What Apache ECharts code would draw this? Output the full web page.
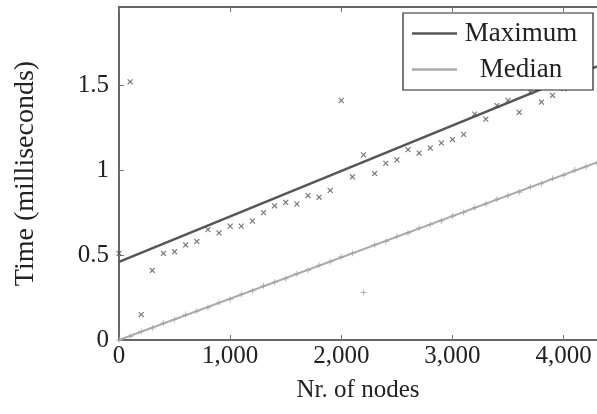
<!DOCTYPE html>
<html>
<head>
<meta charset="utf-8">
<script src="https://cdn.jsdelivr.net/npm/echarts@6/dist/echarts.min.js"></script>
<style>
  html, body { margin: 0; padding: 0; background: #fff; }
  #chart { width: 597px; height: 414px; }
</style>
</head>
<body>
<div id="chart"></div>
<script>
// x positions (number of nodes)
const maxNodes = [0, 100, 200, 300, 400, 500, 600, 700, 800, 900, 1000, 1100, 1200, 1300, 1400,
  1500, 1600, 1700, 1800, 1900, 2000, 2100, 2200, 2300, 2400, 2500, 2600, 2700, 2800, 2900,
  3000, 3100, 3200, 3300, 3400, 3500, 3600, 3700, 3800, 3900, 4000, 4100, 4200];
const maxTimes = [0.51, 1.52, 0.15, 0.41, 0.51, 0.52, 0.56, 0.58, 0.65, 0.63, 0.67, 0.67, 0.70, 0.75, 0.79,
  0.81, 0.80, 0.85, 0.84, 0.88, 1.41, 0.96, 1.09, 0.98, 1.04, 1.06, 1.12, 1.10, 1.13, 1.16,
  1.18, 1.21, 1.33, 1.30, 1.38, 1.41, 1.34, 1.46, 1.40, 1.44, 1.48, 1.51, 1.54];

const medianNodes = [0, 100, 200, 300, 400, 500, 600, 700, 800, 900, 1000, 1100, 1200, 1300, 1400,
  1500, 1600, 1700, 1800, 1900, 2000, 2100, 2200, 2300, 2400, 2500, 2600, 2700, 2800, 2900,
  3000, 3100, 3200, 3300, 3400, 3500, 3600, 3700, 3800, 3900, 4000, 4100, 4200, 4300];
const medianTimes = [0.00, 0.02, 0.05, 0.07, 0.10, 0.12, 0.15, 0.17, 0.19, 0.22, 0.24, 0.27, 0.29, 0.32, 0.34,
  0.36, 0.39, 0.41, 0.44, 0.46, 0.49, 0.51, 0.28, 0.56, 0.58, 0.61, 0.63, 0.66, 0.68, 0.70,
  0.73, 0.75, 0.78, 0.80, 0.83, 0.85, 0.87, 0.90, 0.92, 0.95, 0.97, 1.00, 1.02, 1.04];

// fitted lines (end points)
const maxFit = [[0, 0.46], [4300, 1.61]];
const medianFit = [[0, 0.00], [4300, 1.045]];

const xTicks = [0, 1000, 2000, 3000, 4000];
const yTicks = [0, 0.5, 1, 1.5];

const FONT = 'Liberation Serif';
const DARK = '#565656';
const LIGHT = '#ababab';
const PLUS = 'path://M4.2,0H5.8V4.2H10V5.8H5.8V10H4.2V5.8H0V4.2H4.2Z';

const zip = (xs, ys) => xs.map((x, i) => [x, ys[i]]);
const fmt = v => v.toLocaleString('en-US');

const chart = echarts.init(document.getElementById('chart'), null, { renderer: 'canvas' });

const axisLine = { show: true, lineStyle: { color: '#333', width: 1.5 } };
const axisTick = { show: true, inside: true, length: 5, lineStyle: { color: '#777', width: 1 } };

chart.setOption({
  animation: false,
  backgroundColor: '#fff',
  grid: { left: 119, right: 0, top: 7, bottom: 74, containLabel: false },
  legend: {
    left: 403,
    top: 13,
    orient: 'vertical',
    data: ['Maximum', 'Median'],
    icon: 'rect',
    itemWidth: 45,
    itemHeight: 2.5,
    itemGap: 9,
    padding: [7, 13, 7, 9],
    backgroundColor: '#fff',
    borderColor: '#222',
    borderWidth: 1.2,
    borderRadius: 0,
    formatter: name => '{c|' + name + '}',
    textStyle: {
      fontFamily: FONT, fontSize: 27, color: '#222',
      rich: { c: { fontFamily: FONT, fontSize: 27, color: '#222', width: 118, align: 'center', lineHeight: 27 } }
    }
  },
  xAxis: [{
    type: 'value',
    min: 0,
    max: 4300,
    interval: 1000,
    name: 'Nr. of nodes',
    nameLocation: 'middle',
    nameGap: 38,
    nameTextStyle: { fontFamily: FONT, fontSize: 25, color: '#222' },
    axisLine: axisLine,
    axisTick: axisTick,
    splitLine: { show: false },
    axisLabel: {
      fontFamily: FONT, fontSize: 25, color: '#222', margin: 4,
      showMaxLabel: false,
      formatter: v => xTicks.includes(v) ? fmt(v) : ''
    }
  }, {
    type: 'value',
    position: 'top',
    min: 0,
    max: 4300,
    interval: 1000,
    axisLine: axisLine,
    axisTick: axisTick,
    axisLabel: { show: false },
    splitLine: { show: false }
  }],
  yAxis: {
    type: 'value',
    min: 0,
    max: 1.96,
    interval: 0.5,
    name: 'Time (milliseconds)',
    nameLocation: 'middle',
    nameGap: 79,
    nameTextStyle: { fontFamily: FONT, fontSize: 28, color: '#222' },
    axisLine: axisLine,
    axisTick: axisTick,
    splitLine: { show: false },
    axisLabel: {
      fontFamily: FONT, fontSize: 25, color: '#222', margin: 10,
      showMaxLabel: false,
      formatter: v => yTicks.includes(v) ? String(v) : ''
    }
  },
  series: [
    {
      name: 'Median',
      type: 'line',
      data: medianFit,
      showSymbol: false,
      symbol: 'none',
      lineStyle: { color: LIGHT, width: 2 },
      itemStyle: { color: LIGHT },
      z: 2
    },
    {
      name: 'Median points',
      type: 'scatter',
      data: zip(medianNodes, medianTimes),
      symbol: PLUS,
      symbolSize: 6,
      itemStyle: { color: '#a0a0a0' },
      z: 3
    },
    {
      name: 'Maximum',
      type: 'line',
      data: maxFit,
      showSymbol: false,
      symbol: 'none',
      lineStyle: { color: DARK, width: 2.5 },
      itemStyle: { color: DARK },
      z: 2
    },
    {
      name: 'Maximum points',
      type: 'scatter',
      data: zip(maxNodes, maxTimes),
      symbol: PLUS,
      symbolRotate: 45,
      symbolSize: 7,
      itemStyle: { color: '#505050' },
      z: 3
    }
  ]
});
</script>
</body>
</html>
